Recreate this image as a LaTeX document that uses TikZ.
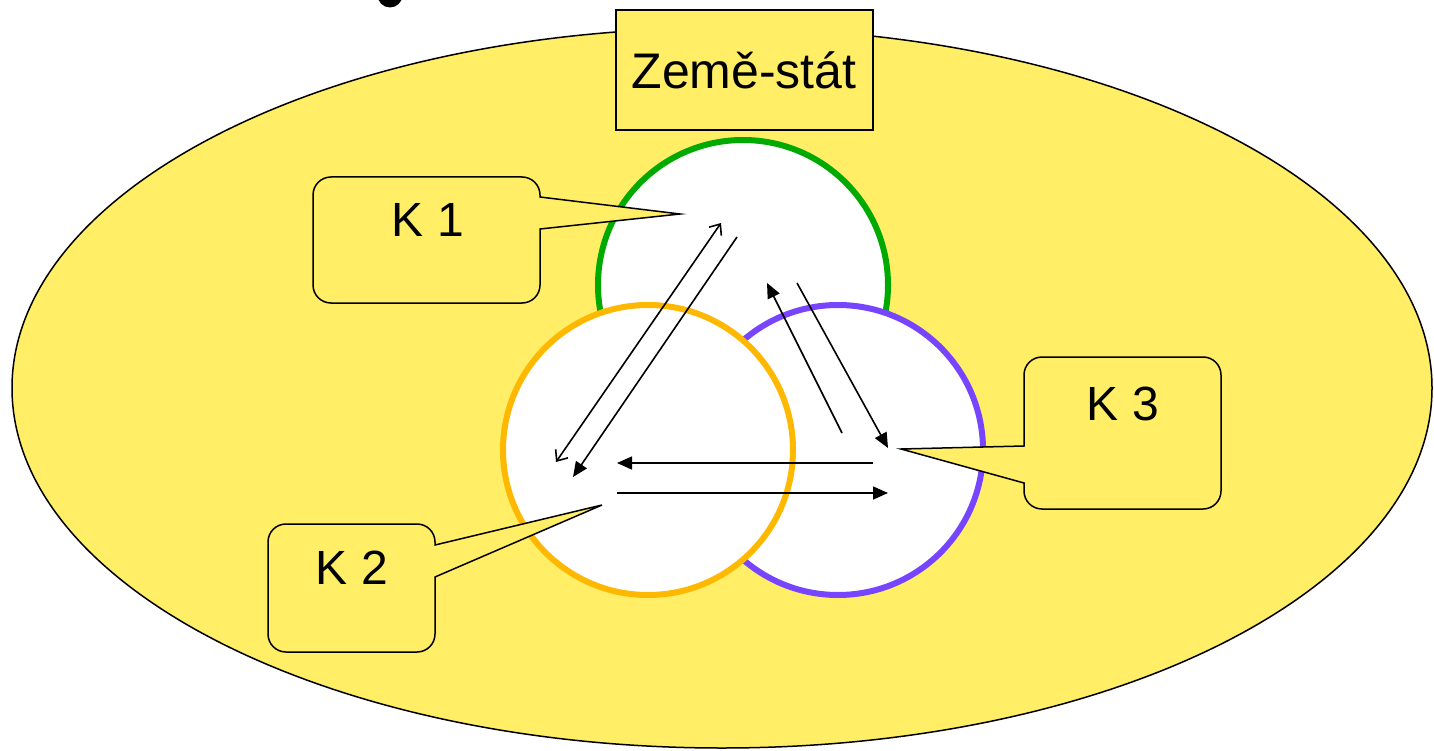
\documentclass[tikz,border=0pt]{standalone}
\usepackage{fontspec}
\setmainfont{Liberation Sans}
\usetikzlibrary{arrows.meta}
\definecolor{yel}{RGB}{255,238,102}
\definecolor{grn}{RGB}{0,170,0}
\definecolor{org}{RGB}{255,184,0}
\definecolor{pur}{RGB}{119,68,255}
\tikzset{
  ring/.style={draw=#1, fill=white, line width=6pt},
  callout/.style={draw, fill=yel, line width=1.5pt, line join=miter},
  lbl/.style={font=\fontsize{48pt}{56pt}\selectfont, inner sep=0pt},
  farrow/.style={line width=1.6pt, -{Triangle[length=15pt,width=13pt]}},
  oarrow/.style={line width=1.6pt, {Straight Barb[length=9pt,width=15pt,line width=1.6pt]}-{Straight Barb[length=9pt,width=15pt,line width=1.6pt]}},
}
\begin{document}
\begin{tikzpicture}[x=1pt,y=-1pt]
\useasboundingbox (0,0) rectangle (1434,751);
\begin{scope}
\clip (0,0) rectangle (1434,751);
\fill[black] (390,-5) circle[radius=12.5pt];
\draw[fill=yel, line width=1.5pt] (722,388) ellipse[x radius=710pt, y radius=360pt];
\end{scope}
\node[draw, fill=yel, line width=2pt, minimum width=257pt, minimum height=120pt, inner sep=0pt,
      font=\fontsize{50pt}{60pt}\selectfont] (zeme) at (744,70) {Země-stát};
% circles
\draw[ring=grn] (743,285) circle[radius=145pt];
\draw[ring=pur] (838,450) circle[radius=145pt];
\draw[ring=org] (648,450) circle[radius=145pt];
% arrow end points
\coordinate (a1) at (556,462); \coordinate (a2) at (721,223);
\coordinate (b1) at (737,237); \coordinate (b2) at (573,477);
\coordinate (c1) at (842,433); \coordinate (c2) at (767,283);
\coordinate (d1) at (797,283); \coordinate (d2) at (888,448);
\coordinate (e1) at (873,463); \coordinate (e2) at (617,463);
\coordinate (f1) at (617,493); \coordinate (f2) at (888,493);
\draw[oarrow] (a1) -- (a2);
\draw[farrow] (b1) -- (b2);
\draw[farrow] (c1) -- (c2);
\draw[farrow] (d1) -- (d2);
\draw[farrow] (e1) -- (e2);
\draw[farrow] (f1) -- (f2);
% callouts
\coordinate (t1) at (680,214);
\coordinate (t2) at (602,505);
\coordinate (t3) at (901,449);
\draw[callout] (313,195) arc[start angle=180,end angle=90,radius=18pt] -- (522,177)
  arc[start angle=90,end angle=0,radius=18pt] -- (540,197) -- (t1) -- (540,229) -- (540,285)
  arc[start angle=0,end angle=-90,radius=18pt] -- (331,303)
  arc[start angle=270,end angle=180,radius=18pt] -- cycle;
\draw[callout] (268,542) arc[start angle=180,end angle=90,radius=18pt] -- (417,524)
  arc[start angle=90,end angle=0,radius=18pt] -- (435,545) -- (t2) -- (435,577) -- (435,634)
  arc[start angle=0,end angle=-90,radius=18pt] -- (286,652)
  arc[start angle=270,end angle=180,radius=18pt] -- cycle;
\draw[callout] (1042,357) -- (1203,357) arc[start angle=90,end angle=0,radius=18pt] -- (1221,491)
  arc[start angle=0,end angle=-90,radius=18pt] -- (1042,509)
  arc[start angle=270,end angle=180,radius=18pt] -- (1024,483) -- (t3) -- (1024,446) -- (1024,375)
  arc[start angle=180,end angle=90,radius=18pt] -- cycle;
\node[lbl] (k1) at (428,220) {K 1};
\node[lbl] (k2) at (352,568) {K 2};
\node[lbl] (k3) at (1123,404) {K 3};
\end{tikzpicture}
\end{document}
